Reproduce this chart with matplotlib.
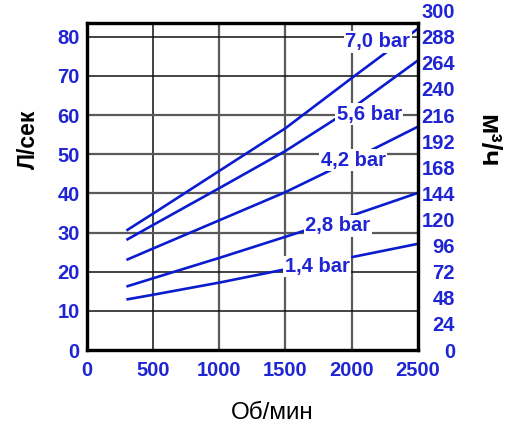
import matplotlib
matplotlib.use("Agg")
import matplotlib.pyplot as plt

plt.rcParams['font.family'] = ['Liberation Sans', 'DejaVu Sans']

# Data
rpm = [300, 500, 1000, 1500, 2000, 2500]
flow_7_0 = [30.5, 34.8, 45.7, 56.6, 69.4, 82.0]
flow_5_6 = [28.1, 31.9, 41.3, 50.8, 61.6, 73.9]
flow_4_2 = [23.0, 25.9, 33.1, 40.3, 48.5, 57.0]
flow_2_8 = [16.2, 18.3, 23.5, 28.9, 34.3, 40.1]
flow_1_4 = [12.9, 14.1, 17.2, 20.6, 23.7, 27.1]
series_labels = ["7,0 bar", "5,6 bar", "4,2 bar", "2,8 bar", "1,4 bar"]
series = [flow_7_0, flow_5_6, flow_4_2, flow_2_8, flow_1_4]

x_ticks = [0, 500, 1000, 1500, 2000, 2500]
left_ticks = [0, 10, 20, 30, 40, 50, 60, 70, 80]
right_ticks = [0, 24, 48, 72, 96, 120, 144, 168, 192, 216, 240, 264, 288]

# label anchor positions (data coords)
label_pos = [(2198, 78.7), (2134, 60.2), (2013, 48.5), (1898, 31.7), (1739, 21.3)]

BLUE_TXT = '#1f25d2'
BLUE_LINE = '#0b1ccf'
TXT_SIZE = 14.5

W, H = 515, 425
fig = plt.figure(figsize=(W / 100, H / 100), dpi=100)
ax = fig.add_axes([86.7 / W, 75 / H, 331 / W, 327 / H])

ymax = 83.5
ax.set_xlim(0, 2500)
ax.set_ylim(0, ymax)
ax.set_xticks(x_ticks)
ax.set_yticks(left_ticks)

dark_grid = {'color': '#111111', 'lw': 1.1}
gray_grid = {'color': '#5a5a5a', 'lw': 1.6}
for v in [500, 1000, 1500, 2000]:
    ax.axvline(v, zorder=1, **(dark_grid if v == 500 else gray_grid))
for v in [10, 20, 30, 40, 50, 60, 70, 80]:
    ax.axhline(v, zorder=1, **(dark_grid if v in (10, 20, 70, 80) else gray_grid))

for ys in series:
    ax.plot(rpm, ys, color=BLUE_LINE, lw=1.9, zorder=3, solid_capstyle='butt')

for (lx, ly), txt in zip(label_pos, series_labels):
    ax.text(lx, ly, txt, color=BLUE_TXT, fontsize=TXT_SIZE, fontweight='bold',
            ha='center', va='center', zorder=5,
            bbox=dict(facecolor='white', edgecolor='none', pad=1.0))

ax.tick_params(axis='both', length=0, labelcolor=BLUE_TXT, labelsize=TXT_SIZE)
ax.tick_params(axis='y', pad=5)
ax.tick_params(axis='x', pad=8)

ax2 = ax.twinx()
ax2.set_ylim(0, ymax * 3.6)
ax2.set_yticks(right_ticks)
ax2.tick_params(axis='y', length=0, labelcolor=BLUE_TXT, labelsize=TXT_SIZE,
                pad=(455 - 417.7) * 0.72)

for lab in ax.get_xticklabels() + ax.get_yticklabels():
    lab.set_fontweight('bold')
for lab in ax2.get_yticklabels():
    lab.set_fontweight('bold')
    lab.set_horizontalalignment('right')

for a in (ax, ax2):
    for s in a.spines.values():
        s.set_linewidth(2.3)
        s.set_color('black')

fig.text(455 / W, 1 - 13 / H, "300", color=BLUE_TXT, fontsize=TXT_SIZE,
         fontweight='bold', ha='right', va='center')

fig.text(28 / W, 1 - 139 / H, "Л/сек", rotation=90, fontsize=16.5, fontweight='bold',
         ha='center', va='center', color='black')
fig.text(487 / W, 1 - 141 / H, "м³/ч", rotation=-90, fontsize=20, fontweight='bold',
         ha='center', va='center', color='black')
fig.text(272 / W, 1 - 413 / H, "Об/мин", fontsize=17.5, ha='center', va='center',
         color='black')

fig.savefig("out.png", dpi=100)
